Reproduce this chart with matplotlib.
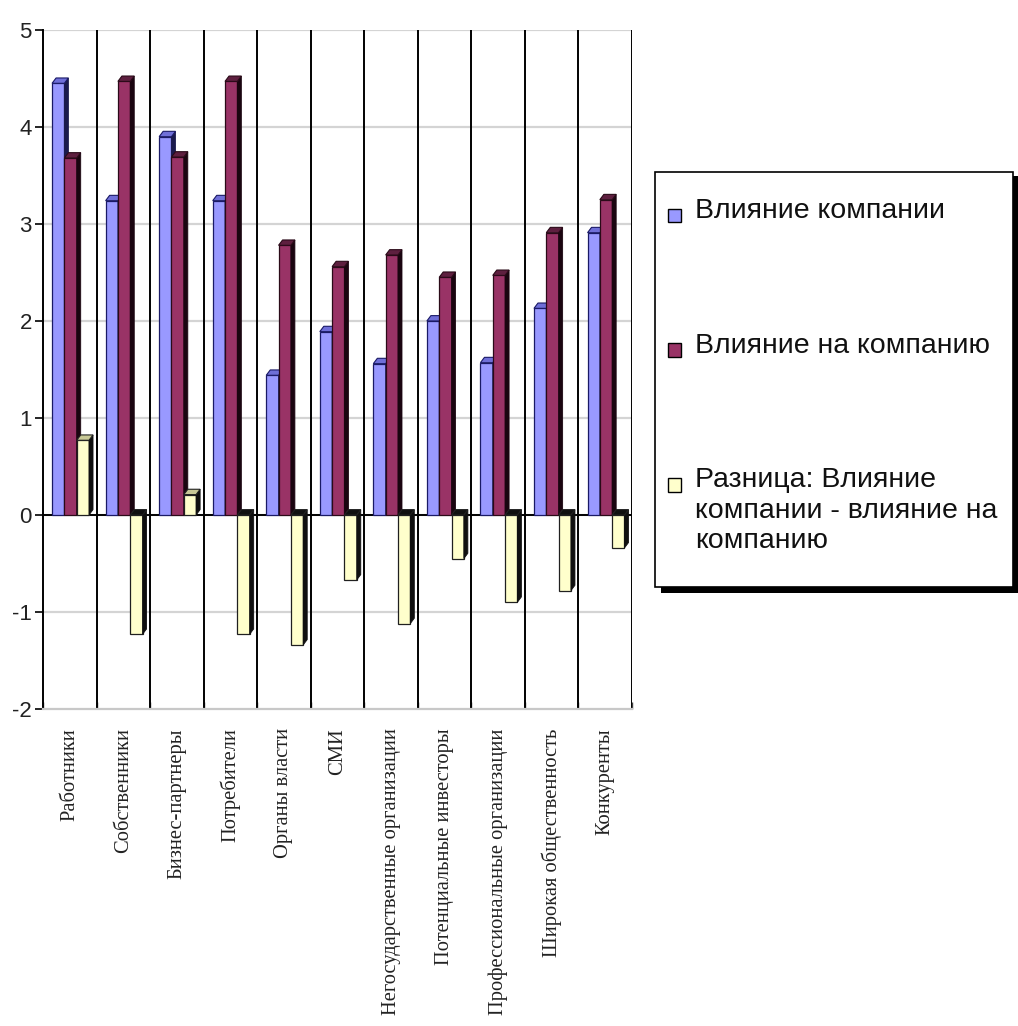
import matplotlib.pyplot as plt
from matplotlib.patches import Polygon, Rectangle

# Оценки по группам стейкхолдеров
groups = ['Работники', 'Собственники', 'Бизнес-партнеры', 'Потребители',
          'Органы власти', 'СМИ', 'Негосударственные организации',
          'Потенциальные инвесторы', 'Профессиональные организации',
          'Широкая общественность', 'Конкуренты']
vliyanie_kompanii = [4.45, 3.24, 3.90, 3.24, 1.44, 1.89, 1.56, 2.00, 1.57, 2.13, 2.91]
vliyanie_na_kompaniyu = [3.68, 4.47, 3.69, 4.47, 2.78, 2.56, 2.68, 2.45, 2.47, 2.91, 3.25]
raznitsa = [0.77, -1.23, 0.21, -1.23, -1.34, -0.67, -1.12, -0.45, -0.90, -0.78, -0.34]

series_names = ['Влияние компании', 'Влияние на компанию',
                'Разница: Влияние\nкомпании - влияние на\nкомпанию']
front_colors = ['#9999FF', '#993366', '#FFFFCC']
top_colors = ['#6F6FD8', '#5E1F3F', '#C8C896']
side_colors = ['#1A1A4D', '#1A0510', '#101010']
edge_colors = ['#1A1A66', '#2A0A18', '#202020']

plt.rcParams['font.family'] = ['Liberation Sans', 'DejaVu Sans']
plt.rcParams['axes.unicode_minus'] = False

fig = plt.figure(figsize=(10.18, 10.26), dpi=100)
ax = fig.add_axes([0.0422, 0.309, 0.5786, 0.6618])

n = len(groups)
ax.set_xlim(-0.5, n - 0.5)
ax.set_ylim(-2, 5)

# глубина "объёмных" столбцов
DX = 0.075
DY = 0.055

width = 0.23
offsets = [-0.215, 0.015, 0.245]
all_values = [vliyanie_kompanii, vliyanie_na_kompaniyu, raznitsa]

for k, vals in enumerate(all_values):
    xs = [i + offsets[k] for i in range(n)]
    bars = ax.bar(xs, vals, width, color=front_colors[k], edgecolor=edge_colors[k],
                  linewidth=0.9, zorder=3 + k)
    for b, v in zip(bars, vals):
        x0 = b.get_x()
        x1 = x0 + b.get_width()
        y_top = max(0, v)
        y_bot = min(0, v)
        side = Polygon([(x1, y_bot), (x1 + DX, y_bot + DY), (x1 + DX, y_top + DY), (x1, y_top)],
                       closed=True, facecolor=side_colors[k], edgecolor=side_colors[k],
                       linewidth=0.6, zorder=3 + k)
        top_c = top_colors[k] if v >= 0 else '#101010'
        top = Polygon([(x0, y_top), (x0 + DX, y_top + DY), (x1 + DX, y_top + DY), (x1, y_top)],
                      closed=True, facecolor=top_c, edgecolor=edge_colors[k],
                      linewidth=0.8, zorder=3 + k)
        ax.add_patch(side)
        ax.add_patch(top)

# сетка и разделители категорий
for yv in range(-1, 6):
    ax.axhline(yv, color='#D4D4D4', linewidth=1.6, zorder=1)
for i in range(n):
    ax.axvline(i + 0.5, color='black', linewidth=1.4, zorder=2)
ax.axhline(0, color='black', linewidth=1.4, zorder=2.5)

for s in ['top', 'right']:
    ax.spines[s].set_visible(False)
ax.spines['left'].set_linewidth(1.4)
ax.spines['bottom'].set_color('#C8C8C8')
ax.spines['bottom'].set_linewidth(1.6)

ax.set_yticks(range(-2, 6))
ax.tick_params(axis='y', direction='out', length=6, width=1.2, labelsize=16, pad=2,
               labelcolor='#222222')
ax.set_xticks([i + 0.5 for i in range(-1, n)])
ax.tick_params(axis='x', direction='in', length=5, width=1.0, color='#404040',
               labelbottom=False)

for i, name in enumerate(groups):
    ax.text(i, -2.2, name, rotation=90, ha='center', va='top', fontsize=14.8,
            family=['Liberation Serif', 'DejaVu Serif'], color='#222222')

# легенда
lax = fig.add_axes([0.64, 0.425, 0.36, 0.41])
lax.set_xlim(0, 1)
lax.set_ylim(0, 1)
lax.axis('off')
lax.add_patch(Rectangle((0.025, -0.007), 0.975, 0.99, facecolor='black',
                        edgecolor='none', zorder=1, clip_on=False))
lax.add_patch(Rectangle((0.01, 0.008), 0.975, 0.985, facecolor='white',
                        edgecolor='black', linewidth=1.2, zorder=2, clip_on=False))
entry_y = [0.89, 0.57, 0.25]
for k in range(3):
    lax.add_patch(Rectangle((0.045, entry_y[k] - 0.016), 0.036, 0.032,
                            facecolor=front_colors[k], edgecolor='black',
                            linewidth=1.0, zorder=3))
    lax.text(0.118, entry_y[k] + 0.042, series_names[k], ha='left', va='top',
             fontsize=20.5, linespacing=1.22, color='#111111', zorder=3)

fig.savefig('out.png', dpi=100)
